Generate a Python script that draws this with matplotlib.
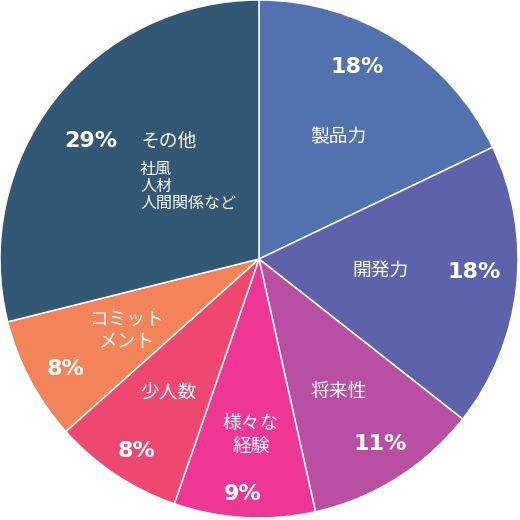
import matplotlib.pyplot as plt

plt.rcParams['font.family'] = ['Noto Sans CJK JP', 'DejaVu Sans']

# slices clockwise from 12 o'clock
names = ['製品力', '開発力', '将来性', '様々な\n経験', '少人数', 'コミット\nメント', 'その他']
shares = [17.9, 17.7, 10.9, 8.8, 8.1, 7.7, 28.9]
pct_labels = ['18%', '18%', '11%', '9%', '8%', '8%', '29%']
colors = ['#5172ae', '#5d62aa', '#b94fa3', '#ee3795', '#ee4870', '#f3845a', '#335875']

# label positions in image pixels (center 259,259)
name_pos = [(338, 137), (380, 270), (339, 391), (251, 435), (168, 393), (127, 330), (168, 141)]
pct_pos = [(357, 67), (474, 272), (380, 444), (243, 494), (137, 451), (66, 369), (91, 141)]

fig = plt.figure(figsize=(5.2, 5.2), dpi=100)
ax = fig.add_axes([0, 0, 1, 1])
ax.pie(shares, colors=colors, startangle=90, counterclock=False, radius=1,
       wedgeprops=dict(edgecolor='white', linewidth=1.1))


def px(p):
    return ((p[0] - 259) / 259, (259 - p[1]) / 259)


for n, p in zip(names, name_pos):
    ax.text(*px(p), n, color='white', fontsize=13.5, ha='center', va='center',
            linespacing=1.1)
for t, p in zip(pct_labels, pct_pos):
    ax.text(*px(p), t, color='white', fontsize=16, fontweight='bold',
            family=['DejaVu Sans'], ha='center', va='center')

ax.text(*px((140, 186)), '社風\n人材\n人間関係など', color='white', fontsize=11.5,
        ha='left', va='center', linespacing=1.0)

ax.set_xlim(-1, 261 / 259)
ax.set_ylim(-261 / 259, 1)
ax.set_aspect('equal')
ax.axis('off')
fig.savefig('out.png', dpi=100)
